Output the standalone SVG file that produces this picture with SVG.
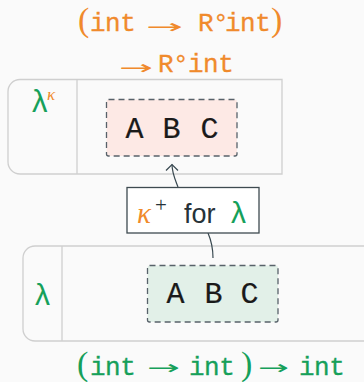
<svg xmlns="http://www.w3.org/2000/svg" width="364" height="382" viewBox="0 0 364 382">
<style>
.frame{fill:#fafafa;stroke:#cfcfcf;stroke-width:1.3}
.div{stroke:#cfcfcf;stroke-width:1.3}
.dash{stroke:#58626a;stroke-width:1.3;stroke-dasharray:6 4}
.tt{font-family:"Liberation Mono",monospace;font-size:26px;letter-spacing:-0.5px;stroke-width:0.3px}
.abc{font-family:"Liberation Mono",monospace;font-size:30px;fill:#1a1a1a;stroke:#1a1a1a;stroke-width:0.2px;text-anchor:middle}
.paren{font-family:"Liberation Serif",serif;font-size:34px}
.arr{font-family:"DejaVu Sans",sans-serif;font-size:19px}
.or{fill:#f08a2c}
.or .tt{stroke:#f08a2c}
.gr{fill:#16a05a}
.gr .tt{stroke:#16a05a}
.lam{font-family:"Liberation Sans",sans-serif}
.kap{font-family:"Liberation Serif",serif;font-style:italic}
.conn{fill:none;stroke:#37474f;stroke-width:1.2}
</style>
<defs>
<marker id="arrow" markerUnits="userSpaceOnUse" markerWidth="14" markerHeight="14" refX="0" refY="0" viewBox="-8 -7 10 14" orient="auto">
<path d="M-6,-6 L0,0 L-6,6" fill="none" stroke="#37474f" stroke-width="1.2"/>
</marker>
</defs>
<rect width="364" height="382" fill="#fafafa"/>

<g id="type-top" class="or">
<text class="paren" x="78" y="31">(</text>
<text class="tt" x="90" y="31">int</text>
<text class="arr" x="146" y="33" textLength="37" lengthAdjust="spacingAndGlyphs">→</text>
<text class="tt" x="198" y="31">R</text>
<text class="tt" x="213" y="31">°</text>
<text class="tt" x="225" y="31">int</text>
<text class="paren" x="271" y="31">)</text>
<text class="arr" x="119" y="74" textLength="34" lengthAdjust="spacingAndGlyphs">→</text>
<text class="tt" x="158" y="72">R</text>
<text class="tt" x="173" y="72">°</text>
<text class="tt" x="188" y="72">int</text>
</g>

<g id="kappa-node">
<path class="frame" d="M20,79.5 H282 V174 H20 A12,12 0 0 1 8,162 V91.5 A12,12 0 0 1 20,79.5 Z"/>
<line class="div" x1="77" y1="79.5" x2="77" y2="174"/>
<text class="lam gr" x="32" y="112" font-size="31">λ</text>
<text class="kap or" x="47" y="100" font-size="17">κ</text>
<rect class="dash" x="106.5" y="99.5" width="130.5" height="56.5" rx="2" fill="#fde9e5"/>
<text class="abc" x="134.5" y="138">A</text>
<text class="abc" x="171.5" y="138">B</text>
<text class="abc" x="209.5" y="138">C</text>
</g>

<g id="lambda-node">
<path class="frame" d="M35,246 H372 V341 H35 A12,12 0 0 1 23,329 V258 A12,12 0 0 1 35,246 Z"/>
<line class="div" x1="62" y1="246" x2="62" y2="341"/>
<text class="lam gr" x="35" y="305" font-size="30">λ</text>
<rect class="dash" x="147.5" y="265.5" width="130.5" height="56.5" rx="2" fill="#e2f0e8"/>
<text class="abc" x="175.5" y="303">A</text>
<text class="abc" x="213.5" y="303">B</text>
<text class="abc" x="249.5" y="303">C</text>
</g>

<g id="connectors">
<path class="conn" d="M178,187 C175,179 172,173 172,164.5" marker-end="url(#arrow)"/>
<path class="conn" d="M208,233 C211,240 213,248 213,258"/>
</g>

<g id="label">
<rect x="127" y="187.5" width="132" height="45.5" fill="#ffffff" stroke="#3e4a50" stroke-width="1.3"/>
<text class="kap or" x="137" y="223" font-size="29">κ</text>
<text x="155" y="212" font-family="Liberation Serif, serif" font-size="21" fill="#263238">+</text>
<text x="184" y="223" font-family="Liberation Sans, sans-serif" font-size="27" fill="#263238">for</text>
<text class="lam gr" x="231" y="223" font-size="30">λ</text>
</g>

<g id="type-bottom" class="gr">
<text class="paren" x="77" y="375">(</text>
<text class="tt" x="90" y="375">int</text>
<text class="arr" x="147" y="374" textLength="33" lengthAdjust="spacingAndGlyphs">→</text>
<text class="tt" x="189" y="375">int</text>
<text class="paren" x="241" y="375">)</text>
<text class="arr" x="258" y="374" textLength="31" lengthAdjust="spacingAndGlyphs">→</text>
<text class="tt" x="299" y="375">int</text>
</g>
</svg>
